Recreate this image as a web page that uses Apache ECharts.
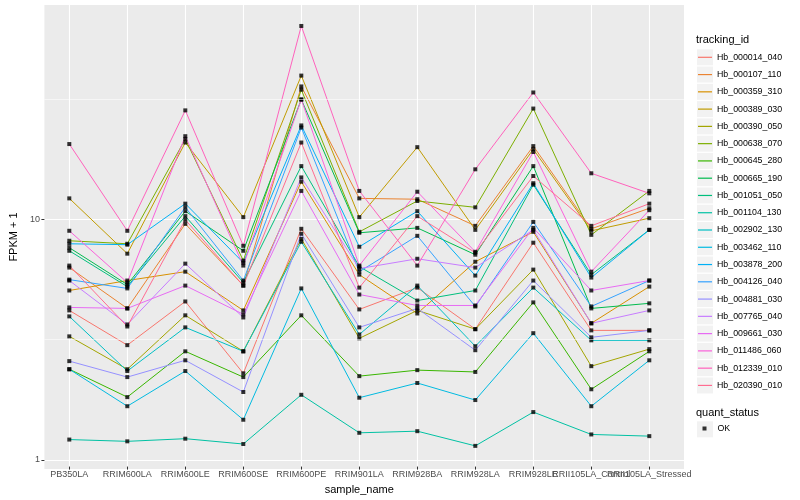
<!DOCTYPE html>
<html>
<head>
<meta charset="utf-8">
<script src="https://cdn.jsdelivr.net/npm/echarts@6/dist/echarts.min.js"></script>
<style>html,body{margin:0;padding:0;background:#fff}#c{width:800px;height:500px}</style>
</head>
<body>
<div id="c"></div>
<script>
const categories = ["PB350LA","RRIM600LA","RRIM600LE","RRIM600SE","RRIM600PE","RRIM901LA","RRIM928BA","RRIM928LA","RRIM928LE","RRII105LA_Control","RRII105LA_Stressed"];
const trackingIds = ["Hb_000014_040","Hb_000107_110","Hb_000359_310","Hb_000389_030","Hb_000390_050","Hb_000638_070","Hb_000645_280","Hb_000665_190","Hb_001051_050","Hb_001104_130","Hb_002902_130","Hb_003462_110","Hb_003878_200","Hb_004126_040","Hb_004881_030","Hb_007765_040","Hb_009661_030","Hb_011486_060","Hb_012339_010","Hb_020390_010"];

const hb_000014_040 = [4.12, 2.95, 4.49, 2.25, 9.03, 4.16, 5.13, 3.44, 7.90, 3.40, 3.40];
const hb_000107_110 = [6.22, 4.20, 9.47, 5.23, 35.5, 12.1, 12.0, 9.29, 20.0, 9.03, 11.0];
const hb_000359_310 = [4.99, 5.49, 5.98, 4.12, 14.2, 5.81, 4.00, 6.58, 8.77, 3.64, 5.18];
const hb_000389_030 = [12.1, 7.11, 20.7, 10.1, 39.4, 10.1, 19.8, 8.94, 19.4, 8.86, 10.0];
const hb_000390_050 = [3.21, 2.34, 3.93, 2.78, 8.20, 3.15, 4.12, 3.44, 6.10, 2.41, 2.84];
const hb_000638_070 = [8.05, 7.82, 21.4, 6.65, 34.4, 8.77, 11.8, 11.1, 28.7, 8.52, 13.0];
const hb_000645_280 = [2.34, 1.79, 2.78, 2.17, 3.93, 2.19, 2.32, 2.28, 4.45, 1.93, 2.78];
const hb_000665_190 = [7.53, 5.28, 10.7, 7.31, 31.3, 8.69, 9.11, 7.04, 16.5, 4.20, 4.41];
const hb_001051_050 = [7.31, 5.18, 10.2, 5.39, 16.5, 6.28, 4.53, 4.99, 13.8, 5.81, 8.94];
const hb_001104_130 = [1.19, 1.17, 1.20, 1.14, 1.83, 1.27, 1.29, 1.12, 1.55, 1.25, 1.23];
const hb_002902_130 = [3.89, 2.30, 3.50, 2.78, 7.97, 3.27, 5.23, 2.92, 5.13, 3.09, 3.09];
const hb_003462_110 = [2.34, 1.64, 2.30, 1.44, 5.09, 1.78, 2.05, 1.74, 3.31, 1.64, 2.55];
const hb_003878_200 = [7.82, 7.75, 11.5, 6.52, 24.4, 7.60, 10.7, 5.76, 14.0, 5.65, 8.94];
const hb_004126_040 = [5.54, 5.09, 11.1, 5.49, 23.9, 5.98, 8.44, 4.28, 9.65, 4.28, 5.49];
const hb_004881_030 = [2.53, 2.17, 2.55, 1.88, 8.61, 3.50, 4.20, 2.81, 5.49, 3.18, 3.40];
const hb_007765_040 = [5.49, 3.60, 6.46, 3.85, 14.8, 6.16, 6.77, 6.22, 8.94, 3.64, 4.12];
const hb_009661_030 = [4.24, 4.20, 5.23, 3.97, 13.0, 4.80, 4.32, 4.32, 9.11, 4.99, 5.49];
const hb_011486_060 = [8.86, 5.39, 22.0, 6.34, 31.3, 6.34, 12.9, 7.24, 18.9, 5.98, 10.8];
const hb_012339_010 = [20.4, 8.86, 28.2, 7.67, 63.5, 13.0, 6.34, 16.0, 33.5, 15.4, 12.7];
const hb_020390_010 = [6.34, 3.53, 9.84, 5.23, 20.7, 5.13, 10.2, 7.18, 15.0, 9.29, 11.5];

const yTickValues = [1, 10];
const yMinorGrid = [3.162, 31.62];
const quantStatus = "OK";

const seriesValues = [hb_000014_040, hb_000107_110, hb_000359_310, hb_000389_030, hb_000390_050,
  hb_000638_070, hb_000645_280, hb_000665_190, hb_001051_050, hb_001104_130, hb_002902_130,
  hb_003462_110, hb_003878_200, hb_004126_040, hb_004881_030, hb_007765_040, hb_009661_030,
  hb_011486_060, hb_012339_010, hb_020390_010];

const hueColors = ["#F8766D","#EA8331","#D89000","#C09B00","#A3A500","#7CAE00","#39B600","#00BB4E","#00BF7D","#00C1A3","#00BFC4","#00BAE0","#00B0F6","#35A2FF","#9590FF","#C77CFF","#E76BF3","#FA62DB","#FF62BC","#FF6C91"];

const FONT = '"Liberation Sans", Arial, Helvetica, sans-serif';
const yMin = 0.9176, yMax = 77.68;

const lineSeries = trackingIds.map((id, k) => ({
  name: id, type: 'line', xAxisIndex: 1, yAxisIndex: 1,
  data: seriesValues[k], symbol: 'none', showSymbol: false,
  lineStyle: { color: hueColors[k], width: 1 }, itemStyle: { color: hueColors[k] },
  z: 2, silent: true
}));
const pointData = [];
seriesValues.forEach(arr => arr.forEach((v, i) => pointData.push([categories[i], v])));

const keyRects = [];
const rowH = 17.27, legTop = 48.8;
for (let i = 0; i < trackingIds.length; i++) {
  keyRects.push({ type: 'rect', shape: { x: 697, y: legTop + i * rowH + 0.5, width: 16, height: 16 }, style: { fill: '#F2F2F2' }, z: -1 });
}
keyRects.push({ type: 'rect', shape: { x: 697, y: 421.3, width: 16, height: 16 }, style: { fill: '#F2F2F2' }, z: -1 });

const option = {
  animation: false,
  backgroundColor: '#ffffff',
  textStyle: { fontFamily: FONT },
  title: [
    { text: 'tracking_id', left: 696, top: 34, padding: 0, textStyle: { fontSize: 11, fontWeight: 'normal', color: '#000', fontFamily: FONT } },
    { text: 'quant_status', left: 696, top: 407, padding: 0, textStyle: { fontSize: 11, fontWeight: 'normal', color: '#000', fontFamily: FONT } }
  ],
  graphic: keyRects,
  grid: [
    { left: 35, right: 116, top: 5, bottom: 31, show: true, backgroundColor: '#EBEBEB', borderWidth: 0 },
    { left: 69.3, right: 150.7, top: 5, bottom: 31, show: false }
  ],
  xAxis: [
    { type: 'value', gridIndex: 0, min: 0, max: 1, show: false },
    { type: 'category', gridIndex: 1, data: categories, boundaryGap: false,
      axisLine: { show: false },
      axisTick: { show: true, length: 3, lineStyle: { color: '#333333', width: 1 } },
      axisLabel: { interval: 0, fontSize: 9, color: '#4D4D4D', margin: 3.5, fontFamily: FONT },
      splitLine: { show: true, lineStyle: { color: '#FFFFFF', width: 1.1 } },
      name: 'sample_name', nameLocation: 'middle', nameGap: 13,
      nameTextStyle: { fontSize: 11, color: '#000', fontFamily: FONT, verticalAlign: 'top' } }
  ],
  yAxis: [
    { type: 'log', gridIndex: 0, logBase: 10, min: yMin, max: yMax,
      axisLine: { show: false },
      axisTick: { show: true, length: 3, customValues: yTickValues, lineStyle: { color: '#333333', width: 1 } },
      axisLabel: { fontSize: 9, color: '#4D4D4D', margin: 4.5, customValues: yTickValues, fontFamily: FONT,
        formatter: v => (Math.abs(v - 1) < 1e-6 ? '1' : (Math.abs(v - 10) < 1e-5 ? '10' : '')) },
      splitLine: { show: true, lineStyle: { color: '#FFFFFF', width: 1.1 } },
      name: 'FPKM + 1', nameLocation: 'middle', nameGap: 17, nameRotate: 90,
      nameTextStyle: { fontSize: 11, color: '#000', fontFamily: FONT } },
    { type: 'log', gridIndex: 1, logBase: 10, min: yMin, max: yMax, show: false }
  ],
  legend: [
    { data: trackingIds, orient: 'vertical', left: 698, top: legTop, padding: 0, itemWidth: 14, itemHeight: 17, itemGap: 0.27,
      icon: 'path://M0,0M14,17M0,7.9H14V9.1H0Z', selectedMode: false,
      textStyle: { fontSize: 8.8, color: '#000', fontFamily: FONT } },
    { data: [quantStatus], orient: 'vertical', left: 702.5, top: 424, padding: 0, itemWidth: 4, itemHeight: 4, itemGap: 0,
      icon: 'rect', selectedMode: false,
      textStyle: { fontSize: 8.8, color: '#000', fontFamily: FONT, padding: [0, 0, 0, 6] } }
  ],
  series: [
    { name: '__grid', type: 'line', xAxisIndex: 0, yAxisIndex: 0, data: [], silent: true, z: 0,
      markLine: { silent: true, symbol: 'none', label: { show: false }, animation: false,
        lineStyle: { color: '#FFFFFF', width: 0.55, type: 'solid' },
        data: yMinorGrid.map(v => ({ yAxis: v })) } },
    ...lineSeries,
    { name: quantStatus, type: 'scatter', xAxisIndex: 1, yAxisIndex: 1, data: pointData,
      symbol: 'rect', symbolSize: 4, itemStyle: { color: '#000000' }, z: 3, silent: true }
  ]
};
const chart = echarts.init(document.getElementById('c'), null, { renderer: 'canvas' });
chart.setOption(option);
</script>
</body>
</html>
